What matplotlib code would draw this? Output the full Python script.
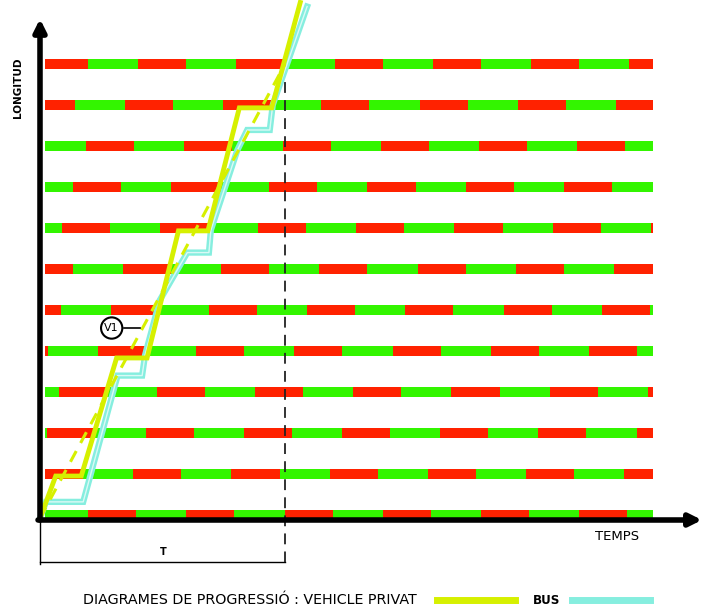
import matplotlib
matplotlib.use("Agg")
import matplotlib.pyplot as plt
from matplotlib.lines import Line2D

# ---- data ----
# intersection positions (distance units), bottom to top
positions = [0, 100, 200, 300, 400, 500, 600, 700, 800, 900, 1000, 1100]
# start of red phase (s) for each intersection, bottom to top
red_offsets = [49, 95, 7.5, 19, 59, 72, 84.5, 22, 33.5, 47, 86.5, 0]
cycle = 100
red_time = 49
t_start, t_end = 5, 624

# private vehicle trajectory (time, distance)
car_t = [0, 16, 42, 78, 109, 141, 171, 203, 236, 265]
car_d = [-8, 95, 95, 383, 383, 693, 693, 993, 993, 1250]
# bus trajectory (time, distance)
bus_t = [0, 6, 44, 79, 104, 107, 122, 150, 172, 174, 201, 211, 234, 237, 272]
bus_d = [-8, 32, 32, 340, 340, 390, 524, 640, 640, 695, 890, 939, 939, 1000, 1240]
# ideal progression line
prog_t = [0, 249.5]
prog_d = [-8, 1100]
T_end = 249.5

RED = '#ff2200'
GREEN = '#33f500'
YELLOW = '#d6f000'
CYAN = '#86eedf'

W, H = 703, 610
fig = plt.figure(figsize=(W / 100, H / 100), dpi=100)
ax = fig.add_axes([40 / W, (H - 520) / H, 663 / W, 520 / H])
ax.set_xlim(0, 663 / 0.982)
ax.set_ylim(-12.2, 1256)
ax.axis('off')

bar_h = 25
for pos, off in zip(positions, red_offsets):
    ax.broken_barh([(t_start, t_end - t_start)], (pos - bar_h / 2, bar_h),
                   facecolors=GREEN, zorder=2)
    reds = []
    k = -1
    while off + k * cycle < t_end:
        a = max(off + k * cycle, t_start)
        b = min(off + k * cycle + red_time, t_end)
        if b > a:
            reds.append((a, b - a))
        k += 1
    ax.broken_barh(reds, (pos - bar_h / 2, bar_h), facecolors=RED, zorder=3)

# dashed vertical at end time
ax.plot([T_end, T_end], [positions[-1], -115], color='#222222', lw=1.3,
        ls=(0, (6, 4)), clip_on=False, zorder=4)

# trajectories
ax.plot(bus_t, bus_d, color=CYAN, lw=4.5, solid_joinstyle='miter', clip_on=False, zorder=5)
ax.plot(bus_t, bus_d, color='white', lw=1.0, alpha=0.7, clip_on=False, zorder=5)
ax.plot(prog_t, prog_d, color=YELLOW, lw=2.2, ls=(0, (4, 3)), clip_on=False, zorder=6)
ax.plot(car_t, car_d, color=YELLOW, lw=3.5, solid_joinstyle='miter', clip_on=False, zorder=7)

# axes arrows
ax.annotate('', xy=(0, 1210), xytext=(0, -12.2),
            arrowprops=dict(arrowstyle='-|>', lw=4, color='black', mutation_scale=18,
                            shrinkA=0, shrinkB=0), annotation_clip=False, zorder=8)
ax.annotate('', xy=(662 / 0.982, -12.2), xytext=(-2, -12.2),
            arrowprops=dict(arrowstyle='-|>', lw=4, color='black', mutation_scale=18,
                            shrinkA=0, shrinkB=0), annotation_clip=False, zorder=8)

# bracket for T
ax.plot([0, T_end], [-114, -114], color='black', lw=1.0, clip_on=False)
ax.plot([0, 0], [-12, -120], color='black', lw=1.0, clip_on=False)
ax.text(125, -90, 'T', fontsize=7, fontweight='bold', ha='center', va='center')

# V1 marker
ax.plot([85.5, 102], [456, 456], color='black', lw=1.2, zorder=9)
ax.text(73, 456, 'V1', fontsize=8, ha='center', va='center', zorder=10,
        bbox=dict(boxstyle='circle,pad=0.3', fc='white', ec='black', lw=1.5))

# labels
fig.text(18 / W, 1 - 88 / H, 'LONGITUD', rotation=90, fontsize=7.5,
         fontweight='bold', ha='center', va='center')
fig.text(617 / W, 1 - 537 / H, 'TEMPS', fontsize=9.5, ha='center', va='center')

# legend
fig.text(83 / W, 1 - 600 / H, 'DIAGRAMES DE PROGRESSIÓ : VEHICLE PRIVAT',
         fontsize=10.3, ha='left', va='center')
fig.add_artist(Line2D([437 / W, 515 / W], [1 - 600 / H, 1 - 600 / H],
                      color=YELLOW, lw=5, transform=fig.transFigure))
fig.text(533 / W, 1 - 600 / H, 'BUS', fontsize=8.6, fontweight='bold',
         ha='left', va='center')
fig.add_artist(Line2D([572 / W, 650 / W], [1 - 600 / H, 1 - 600 / H],
                      color=CYAN, lw=5, transform=fig.transFigure))

fig.savefig('out.png', dpi=100)
